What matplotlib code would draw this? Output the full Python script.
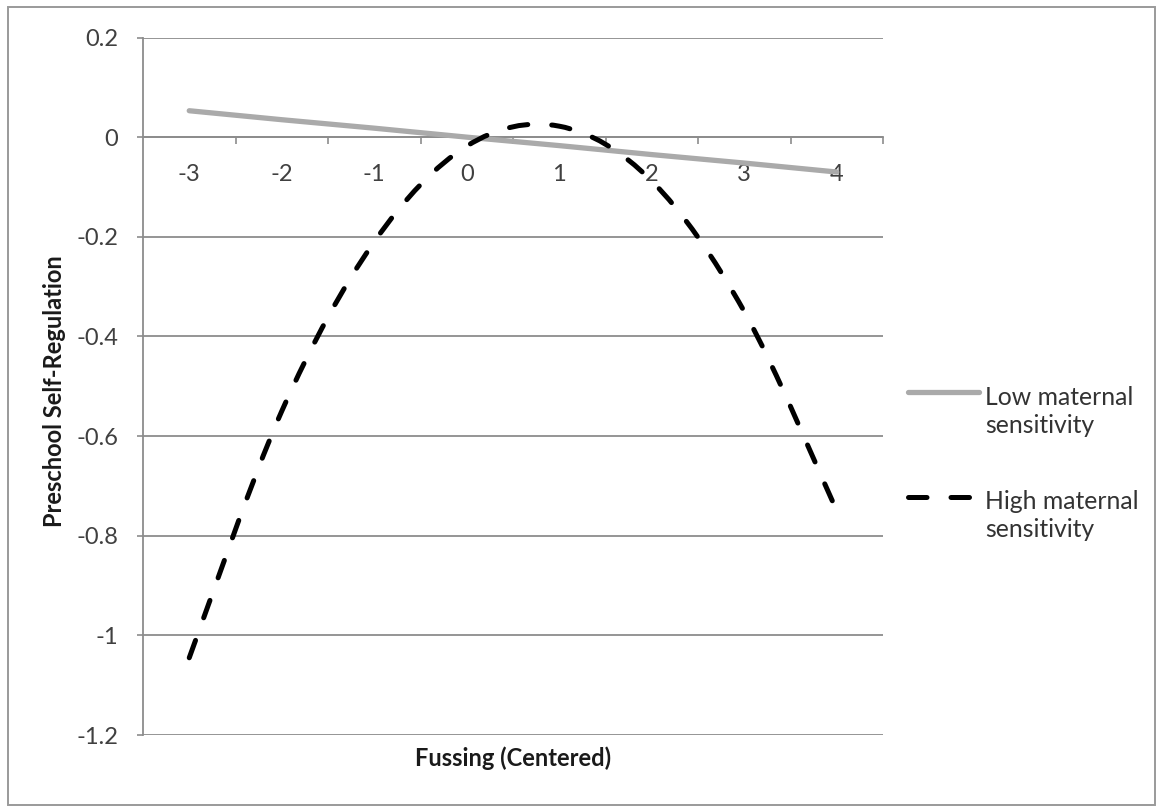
import matplotlib
matplotlib.use("Agg")
import matplotlib.pyplot as plt
from matplotlib.path import Path
from matplotlib.patches import PathPatch, Rectangle
from matplotlib.lines import Line2D
import numpy as np

plt.rcParams['font.family'] = ['Lato', 'DejaVu Sans']
plt.rcParams['axes.unicode_minus'] = False

# ---- data ----
fussing = [-3, -2, -1, 0, 1, 2, 3, 4]
low_sensitivity = [0.053, 0.035, 0.018, 0.000, -0.017, -0.035, -0.052, -0.070]
high_sensitivity = [-1.045, -0.550, -0.210, -0.018, 0.022, -0.088, -0.350, -0.750]
y_ticks = [0.2, 0.0, -0.2, -0.4, -0.6, -0.8, -1.0, -1.2]
y_tick_labels = ['0.2', '0', '-0.2', '-0.4', '-0.6', '-0.8', '-1', '-1.2']
x_tick_labels = ['-3', '-2', '-1', '0', '1', '2', '3', '4']
legend_labels = ['Low maternal\nsensitivity', 'High maternal\nsensitivity']
x_title = 'Fussing (Centered)'
y_title = 'Preschool Self-Regulation'

W, H = 1157, 806
fig = plt.figure(figsize=(W / 100, H / 100), dpi=100)
ax = fig.add_axes([143 / W, 1 - 735 / H, (883 - 143) / W, (735 - 37.5) / H])

grid_c = '#8c8c8c'
text_c = '#404040'


def smooth_path(xs, ys):
    """Excel-style smoothed line: cubic Bezier through the data points."""
    pts = np.column_stack([xs, ys]).astype(float)
    n = len(pts)
    verts = [pts[0]]
    codes = [Path.MOVETO]
    for i in range(n - 1):
        p_prev = pts[max(i - 1, 0)]
        p0 = pts[i]
        p1 = pts[i + 1]
        p_next = pts[min(i + 2, n - 1)]
        c1 = p0 + (p1 - p_prev) / 6.0
        c2 = p1 - (p_next - p0) / 6.0
        verts += [c1, c2, p1]
        codes += [Path.CURVE4] * 3
    return Path(verts, codes)


# low sensitivity: solid light grey
ax.plot(fussing, low_sensitivity, color='#aaaaaa', lw=3.8,
        solid_capstyle='round', zorder=3)

# high sensitivity: smoothed dashed black
lw_high = 3.6
patch = PathPatch(smooth_path(fussing, high_sensitivity), fill=False,
                  edgecolor='black', lw=lw_high, linestyle=(0, (3.7, 4.8)),
                  capstyle='round', zorder=4)
ax.add_patch(patch)

ax.set_xlim(-3.5, 4.5)
ax.set_ylim(-1.2, 0.2)

# y axis
ax.set_yticks(y_ticks)
ax.set_yticklabels(y_tick_labels)
ax.tick_params(axis='y', direction='out', length=4.3, width=1.2, color=grid_c,
               pad=13.5, labelsize=17, labelcolor=text_c)
ax.grid(axis='y', color=grid_c, lw=1.3, zorder=1)
ax.set_axisbelow(True)

# x axis at y = 0
ax.spines['bottom'].set_position(('data', 0))
ax.spines['bottom'].set_color(grid_c)
ax.spines['bottom'].set_linewidth(1.3)
ax.spines['left'].set_color(grid_c)
ax.spines['left'].set_linewidth(1.3)
ax.spines['top'].set_visible(False)
ax.spines['right'].set_visible(False)
ax.set_xticks(fussing)
ax.set_xticklabels(x_tick_labels)
ax.set_xticks(np.arange(-2.5, 4.6, 1.0), minor=True)
ax.tick_params(axis='x', which='major', length=0, pad=19, labelsize=17,
               labelcolor=text_c)
ax.tick_params(axis='x', which='minor', direction='out', length=5, width=1.2,
               color=grid_c)

# axis titles
fig.text(513 / W, 1 - 758 / H, x_title, ha='center', va='center',
         fontsize=17, fontweight='bold', color='#1a1a1a')
fig.text(55 / W, 1 - 391 / H, y_title, ha='center', va='center',
         rotation=90, fontsize=17, fontweight='bold', color='#1a1a1a')

# legend (handle aligned with first text line, as in Excel)
leg_x0, leg_x1, txt_x = 908 / W, 979 / W, 985 / W
rows = [(392.3, 433.0, 'solid'), (496.7, 537.0, 'dash')]
for (yy, ybase, kind), lab in zip(rows, legend_labels):
    yf = 1 - yy / H
    if kind == 'solid':
        fig.add_artist(Line2D([leg_x0, leg_x1], [yf, yf], color='#aaaaaa',
                              lw=3.8, solid_capstyle='round',
                              transform=fig.transFigure))
    else:
        fig.add_artist(Line2D([leg_x0, leg_x1], [yf, yf], color='black',
                              lw=lw_high, dashes=(3.7, 4.8),
                              dash_capstyle='round',
                              transform=fig.transFigure))
    fig.text(txt_x, 1 - ybase / H, lab, ha='left', va='baseline',
             fontsize=17.8, color='#333333', linespacing=1.27)

# outer chart border
fig.add_artist(Rectangle((8 / W, 1 - 805 / H), (1155 - 8) / W, (805 - 7) / H,
                         transform=fig.transFigure, fill=False,
                         edgecolor='#9a9a9a', lw=1.4))

fig.savefig('out.png', dpi=100)
